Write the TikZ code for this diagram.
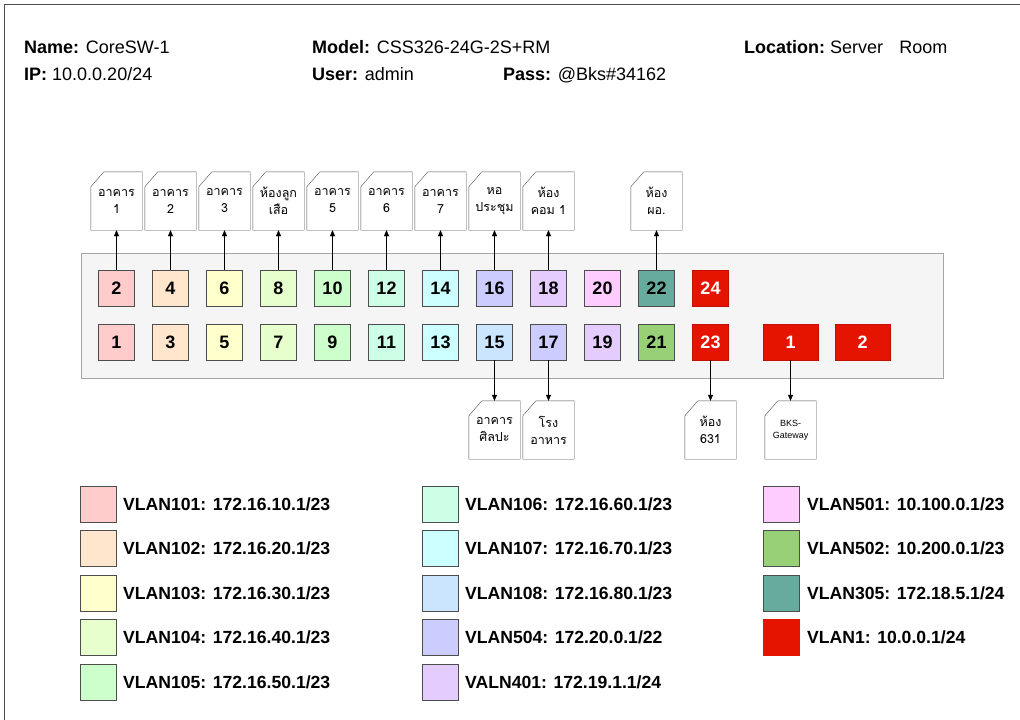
\documentclass[tikz,border=0pt]{standalone}
\usepackage{fontspec}
\setmainfont{Liberation Sans}
\newfontfamily\thaifont[Script=Thai]{Loma}
\usetikzlibrary{arrows.meta}
\definecolor{vA}{HTML}{FFCCCC}
\definecolor{vB}{HTML}{FFE6CC}
\definecolor{vC}{HTML}{FFFFCC}
\definecolor{vD}{HTML}{E6FFCC}
\definecolor{vE}{HTML}{CCFFCC}
\definecolor{vF}{HTML}{CCFFE6}
\definecolor{vG}{HTML}{CCFFFF}
\definecolor{vH}{HTML}{CCE5FF}
\definecolor{vI}{HTML}{CCCCFF}
\definecolor{vJ}{HTML}{E5CCFF}
\definecolor{vK}{HTML}{FFCCFF}
\definecolor{vL}{HTML}{97D077}
\definecolor{vM}{HTML}{67AB9F}
\definecolor{vred}{HTML}{E51400}
\definecolor{vredline}{HTML}{C01000}
\definecolor{portline}{HTML}{4D4D4D}
\definecolor{panelfill}{HTML}{F5F5F5}
\definecolor{panelline}{HTML}{A6A6A6}
\tikzstyle{port}=[rectangle, draw=portline, thin, minimum width=36pt, minimum height=36pt, inner sep=0pt, font=\fontsize{18}{20}\selectfont\bfseries]
\tikzstyle{sfp}=[port, fill=vred, draw=vredline, text=white]
\tikzstyle{card}=[minimum width=51pt, minimum height=58pt, align=center, inner sep=0pt, font=\thaifont\fontsize{12.5}{17}\selectfont]
\tikzstyle{key}=[rectangle, draw=portline, thin, minimum width=36pt, minimum height=36pt, inner sep=0pt]
\tikzstyle{keytext}=[anchor=west, inner sep=0pt, font=\fontsize{17.6}{20}\selectfont\bfseries]
\tikzstyle{head}=[anchor=base west, inner sep=0pt, font=\fontsize{18}{20}\selectfont]
\tikzstyle{link}=[-{Triangle[length=6pt,width=5pt]}, thin]

\begin{document}
\begin{tikzpicture}[x=1pt,y=-1pt]
  \useasboundingbox (0,0) rectangle (1020,720);
  \draw[portline] (4,720) -- (4,4) -- (1020,4);

  % header
  \node[head] (name) at (24,53) {\textbf{Name:} CoreSW-1};
  \node[head] (ip) at (24,80) {\textbf{IP:} 10.0.0.20/24};
  \node[head] (model) at (312,53) {\textbf{Model:} CSS326-24G-2S+RM};
  \node[head] (user) at (312,80) {\textbf{User:} admin};
  \node[head] (pass) at (503,80) {\textbf{Pass:} @Bks\#34162};
  \node[head] (location) at (744,53) {\textbf{Location:}\ Server\hspace{0.9em}Room};

  % switch panel
  \draw[fill=panelfill, draw=panelline, thick] (81,253) rectangle (943,378);

  % top row
  \node[port, fill=vA] (p2) at (116.5,288) {2};
  \node[port, fill=vB] (p4) at (170.5,288) {4};
  \node[port, fill=vC] (p6) at (224.5,288) {6};
  \node[port, fill=vD] (p8) at (278.5,288) {8};
  \node[port, fill=vE] (p10) at (332.5,288) {10};
  \node[port, fill=vF] (p12) at (386.5,288) {12};
  \node[port, fill=vG] (p14) at (440.5,288) {14};
  \node[port, fill=vI] (p16) at (494.5,288) {16};
  \node[port, fill=vJ] (p18) at (548.5,288) {18};
  \node[port, fill=vK] (p20) at (602.5,288) {20};
  \node[port, fill=vM] (p22) at (656.5,288) {22};
  \node[sfp] (p24) at (710.5,288) {24};

  % bottom row
  \node[port, fill=vA] (p1) at (116.5,342) {1};
  \node[port, fill=vB] (p3) at (170.5,342) {3};
  \node[port, fill=vC] (p5) at (224.5,342) {5};
  \node[port, fill=vD] (p7) at (278.5,342) {7};
  \node[port, fill=vE] (p9) at (332.5,342) {9};
  \node[port, fill=vF] (p11) at (386.5,342) {11};
  \node[port, fill=vG] (p13) at (440.5,342) {13};
  \node[port, fill=vH] (p15) at (494.5,342) {15};
  \node[port, fill=vI] (p17) at (548.5,342) {17};
  \node[port, fill=vJ] (p19) at (602.5,342) {19};
  \node[port, fill=vL] (p21) at (656.5,342) {21};
  \node[sfp] (p23) at (710.5,342) {23};
  \node[sfp, minimum width=55pt] (sfp1) at (790.5,342) {1};
  \node[sfp, minimum width=55pt] (sfp2) at (862.5,342) {2};

  % rooms
  \node[card] (c2) at (116.5,201) {อาคาร\\1};
  \node[card] (c4) at (170.5,201) {อาคาร\\2};
  \node[card] (c6) at (224.5,201) {อาคาร\\3};
  \node[card] (c8) at (278.5,201) {ห้องลูก\\เสือ};
  \node[card] (c10) at (332.5,201) {อาคาร\\5};
  \node[card] (c12) at (386.5,201) {อาคาร\\6};
  \node[card] (c14) at (440.5,201) {อาคาร\\7};
  \node[card] (c16) at (494.5,201) {หอ\\ประชุม};
  \node[card] (c18) at (548.5,201) {ห้อง\\คอม 1};
  \node[card] (c22) at (656.5,201) {ห้อง\\ผอ.};
  \node[card] (c15) at (494.5,430) {อาคาร\\ศิลปะ};
  \node[card] (c17) at (548.5,430) {โรง\\อาหาร};
  \node[card] (c23) at (710.5,430) {ห้อง\\631};
  \node[card, font=\fontsize{9}{12}\selectfont] (gw) at (790.5,430) {BKS-\\Gateway};
  \foreach \c in {c2,c4,c6,c8,c10,c12,c14,c16,c18,c22,c15,c17,c23,gw}
    \draw[portline, thin] ([yshift=-15pt]\c.north west) -- ([xshift=13pt]\c.north west)
      -- (\c.north east) -- (\c.south east) -- (\c.south west) -- cycle;

  \draw[link] (p2) -- (c2);
  \draw[link] (p4) -- (c4);
  \draw[link] (p6) -- (c6);
  \draw[link] (p8) -- (c8);
  \draw[link] (p10) -- (c10);
  \draw[link] (p12) -- (c12);
  \draw[link] (p14) -- (c14);
  \draw[link] (p16) -- (c16);
  \draw[link] (p18) -- (c18);
  \draw[link] (p22) -- (c22);
  \draw[link] (p15) -- (c15);
  \draw[link] (p17) -- (c17);
  \draw[link] (p23) -- (c23);
  \draw[link] (sfp1) -- (gw);

  % legend
  \node[key, fill=vA] (k101) at (98.5,504) {};
  \node[keytext] at (123,504) {VLAN101: 172.16.10.1/23};
  \node[key, fill=vB] (k102) at (98.5,548.5) {};
  \node[keytext] at (123,548.5) {VLAN102: 172.16.20.1/23};
  \node[key, fill=vC] (k103) at (98.5,593) {};
  \node[keytext] at (123,593) {VLAN103: 172.16.30.1/23};
  \node[key, fill=vD] (k104) at (98.5,637.5) {};
  \node[keytext] at (123,637.5) {VLAN104: 172.16.40.1/23};
  \node[key, fill=vE] (k105) at (98.5,682) {};
  \node[keytext] at (123,682) {VLAN105: 172.16.50.1/23};

  \node[key, fill=vF] (k106) at (440,504) {};
  \node[keytext] at (465,504) {VLAN106: 172.16.60.1/23};
  \node[key, fill=vG] (k107) at (440,548.5) {};
  \node[keytext] at (465,548.5) {VLAN107: 172.16.70.1/23};
  \node[key, fill=vH] (k108) at (440,593) {};
  \node[keytext] at (465,593) {VLAN108: 172.16.80.1/23};
  \node[key, fill=vI] (k504) at (440,637.5) {};
  \node[keytext] at (465,637.5) {VLAN504: 172.20.0.1/22};
  \node[key, fill=vJ] (k401) at (440,682) {};
  \node[keytext] at (465,682) {VALN401: 172.19.1.1/24};

  \node[key, fill=vK] (k501) at (781.5,504) {};
  \node[keytext] at (807,504) {VLAN501: 10.100.0.1/23};
  \node[key, fill=vL] (k502) at (781.5,548.5) {};
  \node[keytext] at (807,548.5) {VLAN502: 10.200.0.1/23};
  \node[key, fill=vM] (k305) at (781.5,593) {};
  \node[keytext] at (807,593) {VLAN305: 172.18.5.1/24};
  \node[key, fill=vred, draw=vred] (k1) at (781.5,637.5) {};
  \node[keytext] at (807,637.5) {VLAN1: 10.0.0.1/24};
\end{tikzpicture}
\end{document}
